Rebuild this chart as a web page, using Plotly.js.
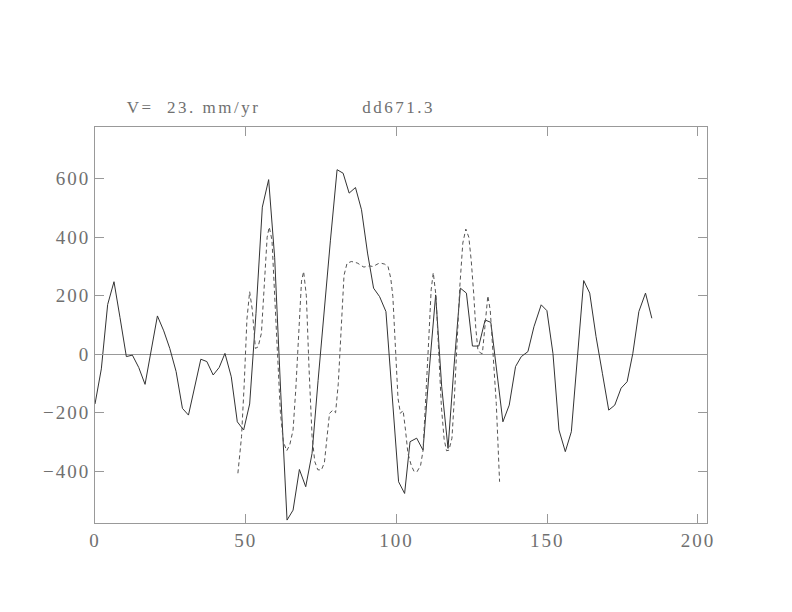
<!DOCTYPE html>
<html>
<head>
<meta charset="utf-8">
<script src="https://cdn.plot.ly/plotly-3.0.1.min.js"></script>
<style>
html,body{margin:0;padding:0;background:#fff;}
#chart{width:792px;height:612px;}
#chart .xtick text, #chart .ytick text{letter-spacing:2px;}
#chart .annotation-text{letter-spacing:2.5px;}
</style>
</head>
<body>
<div id="chart"></div>
<script>
// Solid series (observed)
const solidX = [0, 2.1, 4.2, 6.3, 8.3, 10.4, 12.4, 14.5, 16.6, 18.7, 20.7, 22.8, 24.8, 26.9, 29.0, 31.0, 33.1, 35.1, 37.1, 39.2, 41.2, 43.1, 45.2, 47.2, 49.3, 51.3, 53.4, 55.5, 57.6, 59.6, 61.6, 63.7, 65.7, 67.8, 69.9, 72.0, 74.0, 76.0, 78.1, 80.3, 82.3, 84.3, 86.4, 88.4, 90.4, 92.4, 94.4, 96.5, 98.6, 100.7, 102.7, 104.5, 106.7, 108.8, 110.9, 113.0, 115.0, 117.1, 119.1, 121.2, 123.2, 125.2, 127.3, 129.4, 131.3, 133.3, 135.3, 137.4, 139.5, 141.4, 143.6, 145.6, 148.0, 149.9, 151.9, 153.9, 156.0, 158.0, 160.0, 162.1, 164.1, 166.2, 168.3, 170.4, 172.4, 174.5, 176.5, 178.4, 180.4, 182.6, 184.7];
const solidY = [-170, -50, 170, 248, 125, -8, -3, -45, -103, 15, 131, 80, 20, -59, -185, -208, -110, -17, -25, -71, -45, 3, -77, -231, -259, -170, 140, 503, 597, 330, -130, -567, -533, -394, -453, -339, -90, 150, 390, 631, 619, 551, 570, 494, 346, 226, 197, 146, -145, -436, -476, -299, -287, -328, -50, 203, -111, -322, -40, 226, 209, 28, 28, 117, 109, -60, -231, -174, -42, -8, 9, 94, 169, 149, 3, -259, -333, -265, -20, 252, 209, 60, -65, -191, -174, -116, -94, 3, 146, 209, 123];

// Dashed series (model)
const dashX = [47.4, 48.6, 49.5, 50.4, 51.3, 52.2, 53.2, 54.1, 55.2, 56.2, 57.1, 57.8, 58.7, 59.6, 60.6, 61.5, 62.5, 63.6, 64.6, 65.7, 66.6, 67.6, 68.5, 69.2, 70.1, 71.0, 72.0, 72.9, 73.9, 75.1, 76.1, 77.0, 77.8, 78.9, 79.8, 80.7, 81.6, 82.6, 83.6, 85.0, 86.1, 87.2, 88.3, 89.2, 90.0, 91.1, 92.2, 93.1, 94.0, 95.0, 96.1, 97.2, 98.1, 98.8, 99.7, 100.5, 101.3, 102.2, 103.0, 103.8, 104.9, 105.8, 106.8, 108.0, 108.8, 109.8, 110.7, 111.5, 112.2, 113.1, 114.0, 114.9, 115.8, 116.6, 117.4, 118.4, 119.2, 120.1, 121.0, 122.0, 123.0, 124.0, 124.8, 125.6, 126.3, 127.0, 128.0, 128.5, 129.3, 130.3, 131.1, 132.0, 133.1, 134.2];
const dashY = [-407, -282, -100, 120, 214, 150, 20, 25, 72, 250, 400, 435, 390, 200, -30, -200, -300, -330, -310, -259, -120, 100, 250, 283, 200, -50, -280, -367, -395, -396, -370, -280, -202, -191, -200, -100, 100, 270, 311, 317, 315, 311, 303, 298, 300, 302, 300, 305, 310, 311, 308, 300, 260, 197, 30, -150, -202, -192, -260, -339, -380, -400, -402, -380, -330, -150, 50, 220, 279, 200, 0, -180, -290, -330, -328, -287, -150, 50, 230, 380, 428, 400, 320, 209, 90, 15, 3, 3, 90, 200, 150, 20, -168, -436];

const xTicks = [0, 50, 100, 150, 200];
const yTicks = [-400, -200, 0, 200, 400, 600];
const titleLeft = "V=\u00a0 23. mm/yr";
const titleRight = "dd671.3";

const fontFam = "Liberation Serif, DejaVu Serif, serif";
const axisCol = "#999999";
const textCol = "#707070";

const traces = [
  {x: solidX, y: solidY, type: "scatter", mode: "lines",
   line: {color: "#333333", width: 1}, hoverinfo: "skip"},
  {x: dashX, y: dashY, type: "scatter", mode: "lines",
   line: {color: "#555555", width: 1, dash: "4px,3px"}, hoverinfo: "skip"}
];

const axisCommon = {
  showgrid: false, showline: true, linecolor: axisCol, linewidth: 1,
  mirror: "ticks", ticks: "inside", ticklen: 9, tickcolor: axisCol, tickwidth: 1,
  tickfont: {family: fontFam, size: 19, color: textCol}
};

const layout = {
  width: 792, height: 612,
  paper_bgcolor: "#ffffff", plot_bgcolor: "#ffffff",
  showlegend: false,
  margin: {l: 95, r: 85, t: 127, b: 89, pad: 0},
  xaxis: Object.assign({}, axisCommon, {
    range: [0, 203], tickmode: "array", tickvals: xTicks, ticktext: xTicks.map(String),
    zeroline: false
  }),
  yaxis: Object.assign({}, axisCommon, {
    range: [-577, 777], tickmode: "array", tickvals: yTicks,
    zeroline: true, zerolinecolor: axisCol, zerolinewidth: 1
  }),
  annotations: [
    {text: titleLeft, xref: "paper", yref: "paper", x: 0.075, y: 1.048,
     xanchor: "left", yanchor: "middle", showarrow: false,
     font: {family: fontFam, size: 17, color: textCol}},
    {text: titleRight, xref: "paper", yref: "paper", x: 0.447, y: 1.048,
     xanchor: "left", yanchor: "middle", showarrow: false,
     font: {family: fontFam, size: 17, color: textCol}}
  ]
};

Plotly.newPlot("chart", traces, layout, {staticPlot: true, displayModeBar: false});
</script>
</body>
</html>
